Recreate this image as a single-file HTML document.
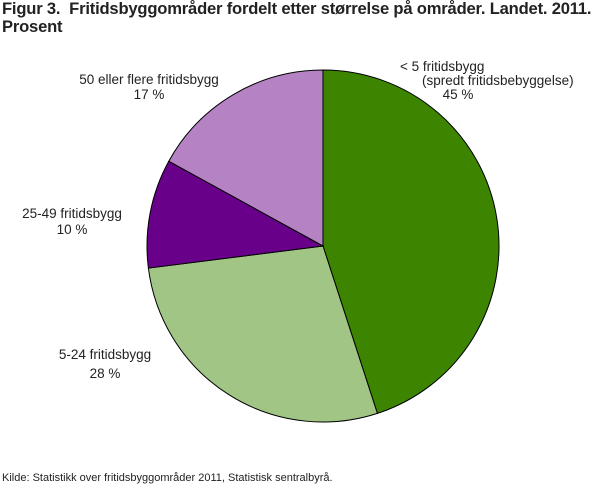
<!DOCTYPE html>
<html><head><meta charset="utf-8"><style>
body{margin:0;width:610px;height:488px;background:#fff;font-family:"Liberation Sans",sans-serif;overflow:hidden}
#title{position:absolute;left:2px;top:0px;font-size:16.6px;font-weight:bold;color:#222;line-height:18px;letter-spacing:-0.2px}
#source{position:absolute;left:2px;top:472px;font-size:11px;color:#222}
svg{position:absolute;left:0;top:0}
text{font-family:"Liberation Sans",sans-serif;font-size:13.5px;fill:#222}
</style></head><body>
<div id="title">Figur 3.&nbsp; Fritidsbyggområder fordelt etter størrelse på områder. Landet. 2011.<br>Prosent</div>
<svg id="chart" width="610" height="488"></svg>
<div id="source">Kilde: Statistikk over fritidsbyggområder 2011, Statistisk sentralbyrå.</div>
<script>
const categories=["< 5 fritidsbygg","5-24 fritidsbygg","25-49 fritidsbygg","50 eller flere fritidsbygg"];
const values=[45,28,10,17];
const valueLabels=["45 %","28 %","10 %","17 %"];
const colors=["#3d8500","#a0c585","#68008a","#b583c4"];
const labelLines=[["< 5 fritidsbygg","(spredt fritidsbebyggelse)","45 %"],["5-24 fritidsbygg","28 %"],["25-49 fritidsbygg","10 %"],["50 eller flere fritidsbygg","17 %"]];
const labelPos=[[[400,71,"start"],[422,85,"start"],[458,99,"middle"]],[[105,359,"middle"],[105,378,"middle"]],[[72,218,"middle"],[72,234,"middle"]],[[149,84,"middle"],[149,99,"middle"]]];
const svg=document.getElementById('chart');const NS='http://www.w3.org/2000/svg';
const cx=323,cy=246,r=176;const total=values.reduce((a,b)=>a+b,0);
function pt(a){return [cx+r*Math.sin(a),cy-r*Math.cos(a)];}
let a0=0;
values.forEach((v,i)=>{const a1=a0+v/total*2*Math.PI;const p0=pt(a0),p1=pt(a1);const large=(a1-a0)>Math.PI?1:0;
const p=document.createElementNS(NS,'path');
p.setAttribute('d',`M${cx},${cy}L${p0[0]},${p0[1]}A${r},${r} 0 ${large} 1 ${p1[0]},${p1[1]}Z`);
p.setAttribute('fill',colors[i]);p.setAttribute('stroke','#000');p.setAttribute('stroke-width','1');


svg.appendChild(p);a0=a1;});
labelLines.forEach((lines,i)=>{lines.forEach((s,j)=>{const t=document.createElementNS(NS,'text');const q=labelPos[i][j];
t.setAttribute('x',q[0]);t.setAttribute('y',q[1]);t.setAttribute('text-anchor',q[2]);t.textContent=j==lines.length-1?valueLabels[i]:s;


svg.appendChild(t);});});
</script>
</body></html>
